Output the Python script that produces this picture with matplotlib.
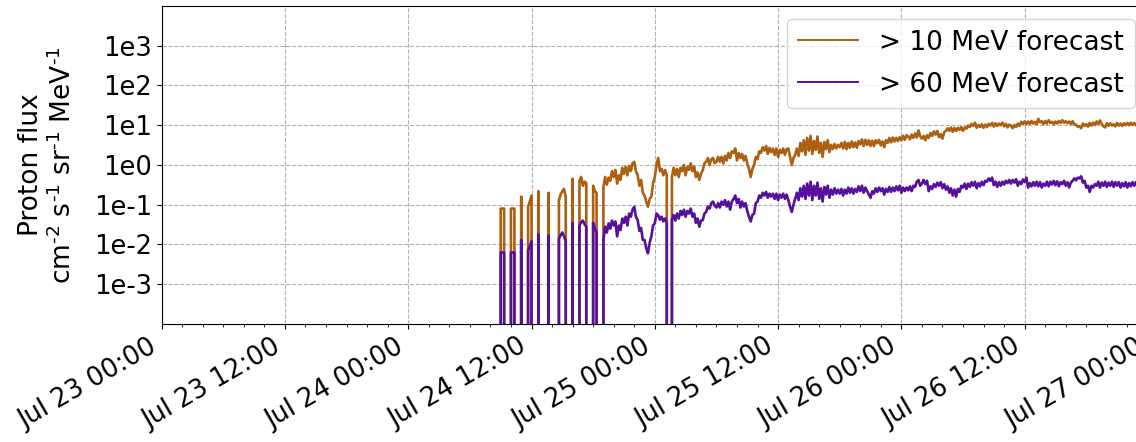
import matplotlib
matplotlib.use("Agg")
import matplotlib.pyplot as plt
import matplotlib.dates as mdates
import pandas as pd
from matplotlib.ticker import NullLocator

# forecast start and cadence (10 min samples)
START = "2024-07-24 08:40"
STEP = "10min"

# >10 MeV forecast, proton flux (0 = no flux)
flux_10 = [
    0, 0, 0.08, 0.08, 0.08, 0, 0, 0, 0.08, 0.08,
    0.08, 0, 0, 0, 0.16, 0, 0, 0, 0.09, 0.12,
    0.17, 0, 0, 0, 0.22, 0, 0, 0, 0, 0,
    0.2, 0, 0, 0, 0, 0, 0.13, 0.18, 0.22, 0.25,
    0.15, 0, 0, 0, 0.45, 0, 0, 0, 0.4, 0.5,
    0.3, 0.38, 0.35, 0, 0, 0, 0.3, 0.22, 0.2, 0,
    0, 0, 0.28, 0.5, 0.32, 0.48, 0.40, 0.7, 0.50, 0.75,
    0.34, 0.55, 0.42, 0.85, 0.6, 0.9, 0.55, 0.95, 0.7, 1.1,
    1.2, 0.7, 0.55, 0.3, 0.42, 0.2, 0.17, 0.12, 0.089, 0.14,
    0.16, 0.35, 0.50, 1.0, 1.5, 0.7, 0.8, 0.55, 0.75, 0.55,
    0, 0, 0.50, 0.85, 0.55, 0.8, 0.50, 0.85, 0.7, 1.0,
    0.55, 0.9, 0.75, 1.1, 0.7, 0.9, 0.5, 0.65, 0.42, 0.6,
    0.74, 1.1, 1.2, 1.5, 1.0, 1.4, 1.5, 1.1, 1.2, 1.6,
    1.2, 1.6, 1.1, 1.7, 1.3, 2.0, 1.5, 2.2, 2.0, 2.6,
    1.3, 2.0, 1.5, 1.9, 1.3, 1.7, 1.1, 0.8, 0.5, 0.8,
    1.0, 1.6, 1.4, 2.2, 2.0, 2.8, 2.3, 3.0, 1.9, 2.7,
    2.1, 2.6, 1.8, 2.6, 1.6, 2.4, 2.0, 2.6, 1.8, 2.5,
    2.6, 1.6, 1.0, 1.5, 1.8, 2.6, 1.7, 3.6, 2.2, 4.2,
    1.8, 4.8, 2.3, 5.4, 1.9, 4.0, 2.4, 5.2, 2.0, 3.6,
    1.6, 3.8, 2.5, 4.2, 2.1, 3.2, 2.5, 3.4, 2.6, 3.2,
    2.8, 3.6, 2.6, 3.8, 2.5, 3.6, 2.7, 3.9, 2.8, 3.7,
    2.7, 4.0, 3.3, 4.4, 3.0, 4.3, 3.2, 4.2, 3.0, 4.1,
    3.0, 4.2, 3.5, 4.3, 3.1, 3.9, 2.8, 4.2, 3.6, 4.8,
    3.7, 4.9, 3.9, 4.8, 4.0, 5.0, 4.2, 5.4, 4.3, 5.6,
    5.2, 4.4, 5.8, 4.8, 6.2, 4.9, 7.4, 5.2, 4.6, 5.4,
    4.2, 5.6, 4.8, 6.4, 5.4, 7.0, 5.8, 7.2, 5.0, 6.0,
    4.6, 6.6, 7.2, 8.4, 7.2, 8.8, 6.8, 8.6, 7.2, 8.6,
    7.6, 9.0, 7.2, 8.8, 8.2, 9.8, 9.0, 10.8, 9.6, 11.6,
    8.6, 10.2, 9.0, 10.6, 8.6, 10.4, 9.0, 10.8, 9.8, 11.4,
    9.2, 11.2, 9.6, 11.0, 10.0, 11.6, 9.4, 10.8, 8.8, 10.4,
    9.8, 8.4, 10.2, 9.0, 11, 9.6, 12.2, 10.8, 12.5, 10.6,
    12.4, 10.8, 12.8, 11.0, 12.2, 10.6, 14.5, 11.8, 12.6, 10.6,
    12.8, 11.0, 13.4, 11.4, 12.2, 10.6, 12.4, 11.0, 12.8, 11.4,
    13.4, 11.6, 12.6, 11.2, 12.4, 10.8, 12.6, 10.4, 10.4, 9.2,
    9.4, 8.4, 11, 9.6, 10.6, 9.2, 11.4, 9.8, 11.6, 10.2,
    12.4, 10.6, 13.2, 10.8, 9.4, 8.8, 11.2, 9.6, 11.2, 9.8,
    10.6, 9.4, 11.4, 9.8, 11.0, 9.6, 11.2, 10.0, 11.4, 10.0,
    11.6, 10.2, 11.4, 10.0, 11.6, 10.2, 11.2, 10.4, 11.6, 10.4,
    11,
]

# >60 MeV forecast
flux_60 = [
    0, 0, 0.0063, 0.0063, 0.0063, 0, 0, 0, 0.0063, 0.0063,
    0.0063, 0, 0, 0, 0.013, 0, 0, 0, 0.007, 0.009,
    0.012, 0, 0, 0, 0.018, 0, 0, 0, 0, 0,
    0.017, 0, 0, 0, 0, 0, 0.014, 0.017, 0.02, 0.016,
    0.012, 0, 0, 0, 0.035, 0, 0, 0, 0.03, 0.036,
    0.04, 0.032, 0.028, 0, 0, 0, 0.035, 0.025, 0.02, 0,
    0, 0, 0.013, 0.028, 0.02, 0.034, 0.025, 0.04, 0.03, 0.038,
    0.016, 0.03, 0.023, 0.045, 0.035, 0.05, 0.03, 0.06, 0.05, 0.075,
    0.089, 0.05, 0.041, 0.022, 0.026, 0.013, 0.013, 0.008, 0.006, 0.011,
    0.016, 0.03, 0.034, 0.06, 0.055, 0.042, 0.05, 0.038, 0.045, 0.035,
    0, 0, 0.041, 0.055, 0.04, 0.06, 0.045, 0.07, 0.055, 0.075,
    0.05, 0.07, 0.06, 0.08, 0.05, 0.06, 0.035, 0.045, 0.028, 0.04,
    0.041, 0.06, 0.066, 0.09, 0.08, 0.11, 0.12, 0.095, 0.085, 0.11,
    0.085, 0.12, 0.1, 0.13, 0.09, 0.12, 0.075, 0.12, 0.14, 0.17,
    0.11, 0.14, 0.085, 0.12, 0.09, 0.11, 0.07, 0.05, 0.038, 0.055,
    0.06, 0.11, 0.12, 0.17, 0.15, 0.2, 0.17, 0.21, 0.15, 0.19,
    0.16, 0.19, 0.14, 0.19, 0.13, 0.18, 0.15, 0.19, 0.14, 0.18,
    0.13, 0.09, 0.066, 0.1, 0.14, 0.2, 0.13, 0.26, 0.16, 0.3,
    0.14, 0.34, 0.17, 0.38, 0.13, 0.3, 0.17, 0.36, 0.14, 0.26,
    0.12, 0.28, 0.18, 0.3, 0.15, 0.24, 0.18, 0.26, 0.19, 0.24,
    0.19, 0.25, 0.17, 0.24, 0.19, 0.27, 0.2, 0.26, 0.19, 0.25,
    0.21, 0.29, 0.22, 0.3, 0.2, 0.27, 0.22, 0.18, 0.15, 0.22,
    0.19, 0.26, 0.21, 0.27, 0.22, 0.26, 0.18, 0.25, 0.21, 0.28,
    0.21, 0.27, 0.22, 0.29, 0.23, 0.3, 0.2, 0.27, 0.22, 0.27,
    0.23, 0.29, 0.22, 0.3, 0.28, 0.38, 0.42, 0.3, 0.34, 0.42,
    0.33, 0.4, 0.22, 0.29, 0.25, 0.33, 0.28, 0.36, 0.3, 0.37,
    0.26, 0.33, 0.24, 0.29, 0.2, 0.26, 0.17, 0.24, 0.16, 0.25,
    0.21, 0.3, 0.27, 0.34, 0.25, 0.34, 0.28, 0.37, 0.3, 0.38,
    0.26, 0.35, 0.29, 0.38, 0.31, 0.4, 0.38, 0.46, 0.4, 0.48,
    0.31, 0.38, 0.28, 0.37, 0.3, 0.38, 0.32, 0.4, 0.35, 0.42,
    0.34, 0.42, 0.36, 0.44, 0.3, 0.38, 0.33, 0.43, 0.37, 0.48,
    0.27, 0.35, 0.29, 0.37, 0.3, 0.38, 0.29, 0.37, 0.27, 0.34,
    0.3, 0.38, 0.29, 0.38, 0.32, 0.4, 0.31, 0.39, 0.29, 0.37,
    0.33, 0.4, 0.3, 0.37, 0.27, 0.36, 0.4, 0.46, 0.41, 0.48,
    0.46, 0.52, 0.36, 0.4, 0.27, 0.3, 0.21, 0.3, 0.27, 0.33,
    0.3, 0.38, 0.27, 0.36, 0.3, 0.38, 0.28, 0.36, 0.3, 0.38,
    0.28, 0.37, 0.3, 0.37, 0.27, 0.35, 0.29, 0.37, 0.27, 0.35,
    0.29, 0.37, 0.3, 0.37, 0.29, 0.38, 0.3, 0.37, 0.29, 0.36,
    0.33,
]

ytick_values = [1e-3, 1e-2, 1e-1, 1e0, 1e1, 1e2, 1e3]
ytick_labels = ["1e-3", "1e-2", "1e-1", "1e0", "1e1", "1e2", "1e3"]

times = pd.date_range(START, periods=len(flux_10), freq=STEP).to_numpy()

fig = plt.figure(figsize=(11.36, 4.42), dpi=100)
ax = fig.add_axes([0.1423, 0.267, 0.8682, 0.7195])

ax.plot(times, flux_10, color="#ad5f12", lw=1.9, label="> 10 MeV forecast")
ax.plot(times, flux_60, color="#56109e", lw=1.9, label="> 60 MeV forecast")

ax.set_yscale("log", nonpositive="clip")
ax.set_ylim(1e-4, 1e4)
ax.set_yticks(ytick_values, ytick_labels)
ax.yaxis.set_minor_locator(NullLocator())

ax.set_xlim(pd.Timestamp("2024-07-23 00:00"), pd.Timestamp("2024-07-27 00:00"))
ax.xaxis.set_major_locator(mdates.HourLocator(byhour=[0, 12]))
ax.xaxis.set_minor_locator(mdates.HourLocator(interval=2))
ax.xaxis.set_major_formatter(mdates.DateFormatter("%b %d %H:%M"))
plt.setp(ax.get_xticklabels(), rotation=30, ha="right")

ax.tick_params(labelsize=18.5)
ax.grid(True, which="major", ls="--", color="#b0b0b0", lw=0.8)
ax.set_ylabel(
    "Proton flux\n"
    r"cm$^{\text{-2}}$ s$^{\text{-1}}$ sr$^{\text{-1}}$ MeV$^{\text{-1}}$",
    fontsize=19, labelpad=12,
)
leg = ax.legend(loc="upper right", fontsize=19, handlelength=2.3, labelspacing=0.6)
for line in leg.get_lines():
    line.set_linewidth(1.4)

fig.savefig("out.png", dpi=100)
